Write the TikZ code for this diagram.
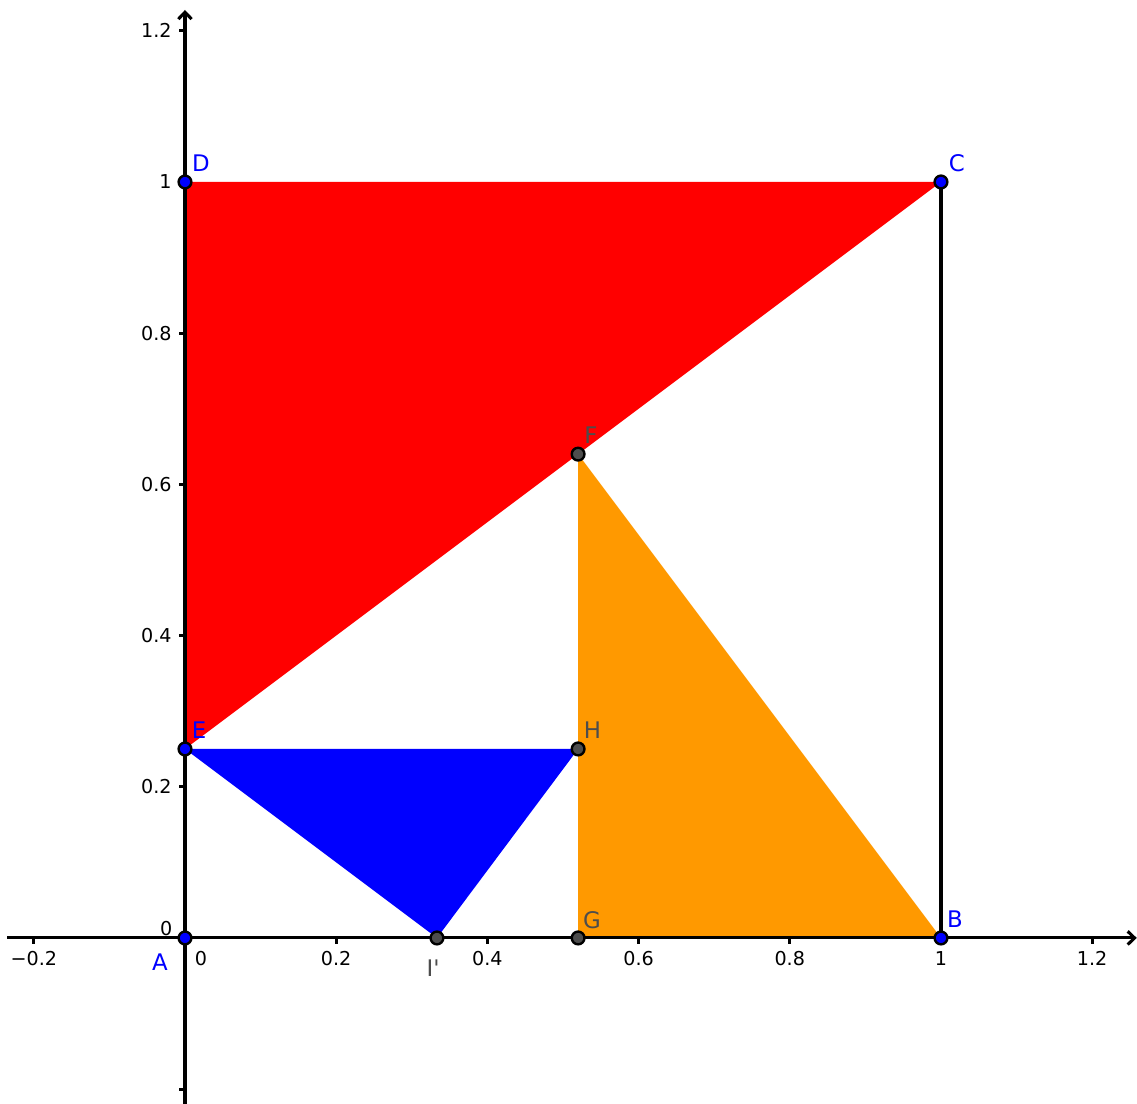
\documentclass[tikz,border=0pt]{standalone}
\usepackage{fontspec}
\setmainfont{DejaVu Sans}[Ligatures=TeXOff]
\definecolor{ggred}{RGB}{255,0,0}
\definecolor{ggorange}{RGB}{255,153,0}
\definecolor{ggblue}{RGB}{0,0,255}
\definecolor{gggray}{RGB}{77,77,77}
\usetikzlibrary{arrows.meta}

\begin{document}
\begin{tikzpicture}[x=10cm,y=10cm,
  ptblue/.style={circle,draw=black,fill=ggblue,line width=0.9pt,inner sep=0pt,minimum size=4.8pt},
  ptgray/.style={ptblue,fill=gggray},
  lblblue/.style={font=\fontsize{8.6}{10}\selectfont,text=ggblue,inner sep=0pt},
  lblgray/.style={lblblue,text=gggray},
  ticklbl/.style={font=\fontsize{7.2}{9}\selectfont,inner sep=0pt},
  axisline/.style={line width=1.15pt,-{Straight Barb[length=2.6pt,width=5pt]}}
]
  \useasboundingbox (-0.2447,-0.2196) rectangle (1.2593,1.2407);
  % Points
  \coordinate (A) at (0,0);
  \coordinate (B) at (1,0);
  \coordinate (C) at (1,1);
  \coordinate (D) at (0,1);
  \coordinate (E) at (0,0.25);
  \coordinate (F) at (0.52,0.64);
  \coordinate (G) at (0.52,0);
  \coordinate (H) at (0.52,0.25);
  \coordinate (I) at (0.3333,0);
  \coordinate (xl) at (-0.235,0);
  \coordinate (xr) at (1.259,0);
  \coordinate (yb) at (0,-0.2196);
  \coordinate (yt) at (0,1.2275);
  % Triangles
  \fill[ggred] (D) -- (C) -- (E) -- cycle;
  \fill[ggblue] (E) -- (H) -- (I) -- cycle;
  \fill[ggorange] (F) -- (B) -- (G) -- cycle;
  % Axes
  \draw[axisline] (xl) -- (xr);
  \draw[axisline] (yb) -- (yt);
  \foreach \t/\s [count=\i] in {-0.2/−0.2,0.2/0.2,0.4/0.4,0.6/0.6,0.8/0.8,1/1,1.2/1.2}{
    \draw[line width=1.15pt] (\t,0) -- (\t,-0.0075);
    \node[ticklbl,anchor=north] (xt\i) at (\t,-0.017) {\s};
  }
  \foreach \t [count=\i] in {0.2,0.4,0.6,0.8,1,1.2}{
    \draw[line width=1.15pt] (0,\t) -- (-0.0075,\t);
    \node[ticklbl,anchor=east] (yt\i) at (-0.017,\t) {\t};
  }
  \draw[line width=1.15pt] (0,-0.2) -- (-0.0075,-0.2);
  \node[ticklbl,anchor=north] (xt0) at (0.021,-0.017) {0};
  \node[ticklbl,anchor=east] (yt0) at (-0.016,0.013) {0};
  % Segment BC
  \draw[line width=1.15pt] (B) -- (C);
  % Point marks
  \node[ptblue] (pA) at (A) {};
  \node[ptblue] (pB) at (B) {};
  \node[ptblue] (pC) at (C) {};
  \node[ptblue] (pD) at (D) {};
  \node[ptblue] (pE) at (E) {};
  \node[ptgray] (pF) at (F) {};
  \node[ptgray] (pG) at (G) {};
  \node[ptgray] (pH) at (H) {};
  \node[ptgray] (pI) at (I) {};
  % Point labels
  \node[lblblue] (lA) at ([shift={(-0.33cm,-0.32cm)}]A) {A};
  \node[lblblue] (lB) at ([shift={(0.185cm,0.25cm)}]B) {B};
  \node[lblblue] (lC) at ([shift={(0.21cm,0.25cm)}]C) {C};
  \node[lblblue] (lD) at ([shift={(0.21cm,0.25cm)}]D) {D};
  \node[lblblue] (lE) at ([shift={(0.185cm,0.25cm)}]E) {E};
  \node[lblgray] (lF) at ([shift={(0.17cm,0.25cm)}]F) {F};
  \node[lblgray] (lG) at ([shift={(0.185cm,0.24cm)}]G) {G};
  \node[lblgray] (lH) at ([shift={(0.19cm,0.25cm)}]H) {H};
  \node[lblgray] (lI) at ([shift={(-0.05cm,-0.40cm)}]I) {I'};
\end{tikzpicture}
\end{document}
